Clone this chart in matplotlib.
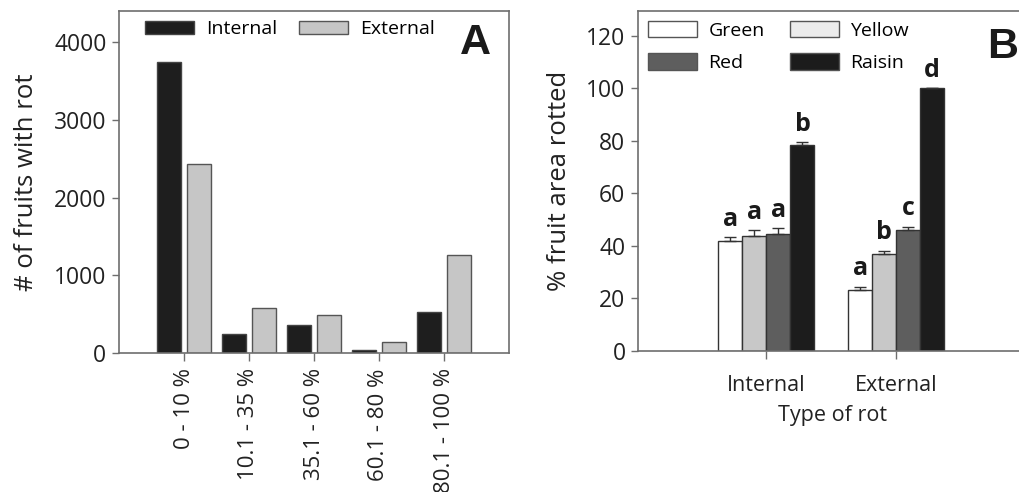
import matplotlib
matplotlib.use("Agg")
import matplotlib.pyplot as plt
from matplotlib.patches import Patch
import numpy as np

plt.rcParams['font.family'] = ['Open Sans', 'DejaVu Sans']

# panel A data
bins = ["0 - 10 %", "10.1 - 35 %", "35.1 - 60 %", "60.1 - 80 %", "80.1 - 100 %"]
internal_counts = [3740, 245, 360, 40, 530]
external_counts = [2430, 580, 490, 140, 1260]

# panel B data
rot_types = ["Internal", "External"]
stages = ["Green", "Yellow", "Red", "Raisin"]
area_rotted = {
    "Green": [41.8, 23.4],
    "Yellow": [43.8, 37.1],
    "Red": [44.4, 46.1],
    "Raisin": [78.4, 100.0],
}
area_err = {
    "Green": [1.5, 1.0],
    "Yellow": [2.2, 1.1],
    "Red": [2.4, 1.2],
    "Raisin": [1.1, 0.0],
}
letters = {
    "Green": ["a", "a"],
    "Yellow": ["a", "b"],
    "Red": ["a", "c"],
    "Raisin": ["b", "d"],
}

txt = '#222222'
spine_c = '#6e6e6e'
stage_colors = {"Green": "white", "Yellow": "#c8c8c8", "Red": "#5e5e5e", "Raisin": "#1c1c1c"}
legend_colors = {"Green": "white", "Yellow": "#ececec", "Red": "#5e5e5e", "Raisin": "#1c1c1c"}

fig = plt.figure(figsize=(10.19, 4.92), dpi=100)
axA = fig.add_axes([119/1019, 1-353/492, 390/1019, 342/492])
axB = fig.add_axes([638/1019, 1-351/492, 388/1019, 340/492])

# ---- panel A
x = np.arange(len(bins))
w = 0.37
axA.bar(x - 0.225, internal_counts, w, color='#1e1e1e', edgecolor='#444444', linewidth=1, label="Internal")
axA.bar(x + 0.225, external_counts, w, color='#c6c6c6', edgecolor='#555555', linewidth=1, label="External")
axA.set_xlim(-1, 5)
axA.set_ylim(0, 4400)
axA.set_yticks([0, 1000, 2000, 3000, 4000])
axA.set_xticks(x)
axA.set_xticklabels(bins, rotation=90, fontsize=16, color=txt)
axA.set_ylabel("# of fruits with rot", fontsize=18.5, color=txt, labelpad=11)
axA.legend(loc='center left', bbox_to_anchor=(0.067, 0.947), frameon=False, ncol=2,
           fontsize=14, handlelength=2.5, handleheight=0.62, handletextpad=0.65,
           columnspacing=1.1, borderpad=0, borderaxespad=0)
axA.text(0.915, 0.905, "A", transform=axA.transAxes, fontsize=31, fontweight='bold',
         family='Liberation Sans', ha='center', va='center', color='#1a1a1a')

# ---- panel B
xb = np.arange(len(rot_types))
bw = 0.185
for i, s in enumerate(stages):
    pos = xb + (i - 1.5) * bw
    vals = area_rotted[s]
    errs = area_err[s]
    axB.bar(pos, vals, bw, color=stage_colors[s], edgecolor='#333333', linewidth=1,
            yerr=[np.zeros(len(errs)), errs], capsize=4,
            error_kw=dict(ecolor='#333333', elinewidth=1, capthick=1))
    for p, v, e, l in zip(pos, vals, errs, letters[s]):
        axB.annotate(l, (p, v + e), xytext=(0, 4), textcoords='offset points',
                     ha='center', va='bottom', fontsize=18, fontweight='bold', color='#1a1a1a')
axB.set_xlim(-0.99, 2)
axB.set_ylim(0, 129.5)
axB.set_yticks([0, 20, 40, 60, 80, 100, 120])
axB.set_xticks(xb)
axB.set_xticklabels(rot_types, fontsize=15.5, color=txt)
axB.set_xlabel("Type of rot", fontsize=15.5, color=txt, labelpad=7)
axB.set_ylabel("% fruit area rotted", fontsize=18.5, color=txt, labelpad=10)
handles = [Patch(facecolor=legend_colors[s], edgecolor='#555555', label=s)
           for s in ["Green", "Red", "Yellow", "Raisin"]]
axB.legend(handles=handles, loc='center left', bbox_to_anchor=(0.026, 0.896), frameon=False,
           ncol=2, fontsize=14, handlelength=2.5, handleheight=0.93, handletextpad=0.6,
           columnspacing=1.3, labelspacing=0.7, borderpad=0, borderaxespad=0)
axB.text(0.941, 0.895, "B", transform=axB.transAxes, fontsize=31, fontweight='bold',
         family='Liberation Sans', ha='center', va='center', color='#1a1a1a')

for ax in (axA, axB):
    for sp in ax.spines.values():
        sp.set_color(spine_c)
        sp.set_linewidth(1.2)
    ax.tick_params(axis='y', direction='out', length=5, width=1, color=spine_c,
                   labelsize=16.5, labelcolor=txt, pad=4)
    ax.tick_params(axis='x', direction='out', length=6, width=1, color=spine_c, pad=5)
axB.tick_params(axis='x', pad=11)

fig.savefig("out.png", dpi=100)
